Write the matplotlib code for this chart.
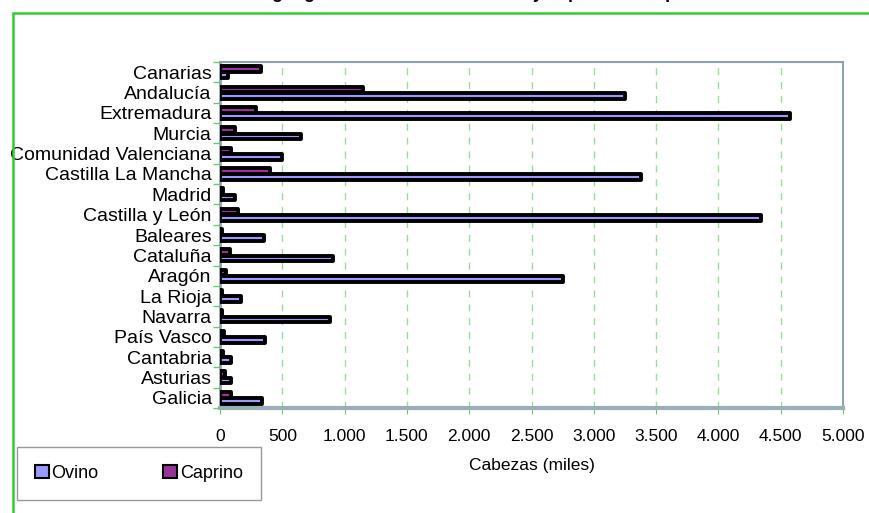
import matplotlib.pyplot as plt
import numpy as np
from matplotlib.patches import Rectangle
from matplotlib.ticker import FuncFormatter, MultipleLocator

plt.rcParams["font.family"] = ["Liberation Sans", "DejaVu Sans"]

# bottom to top, as drawn on the category axis
regions = [
    "Galicia", "Asturias", "Cantabria", "País Vasco", "Navarra", "La Rioja",
    "Aragón", "Cataluña", "Baleares", "Castilla y León", "Madrid",
    "Castilla La Mancha", "Comunidad Valenciana", "Murcia", "Extremadura",
    "Andalucía", "Canarias",
]
ovino = [340, 85, 85, 365, 885, 170, 2755, 905, 355, 4345, 120,
         3380, 500, 650, 4575, 3250, 65]
caprino = [85, 40, 28, 35, 18, 18, 50, 82, 18, 145, 28,
           405, 92, 122, 292, 1145, 330]
series_names = ["Ovino", "Caprino"]
colors = ["#9999FF", "#993399"]

fig = plt.figure(figsize=(8.7, 5.13), dpi=100)
ax = fig.add_axes([220 / 870, 1 - 408 / 513, 623 / 870, 346 / 513])

y = np.arange(len(regions))
h = 0.28
off = 0.155
ax.barh(y - off, ovino, height=h, color=colors[0], edgecolor="black",
        linewidth=2.8, joinstyle="round", label=series_names[0], zorder=3)
ax.barh(y + off, caprino, height=h, color=colors[1], edgecolor="black",
        linewidth=2.8, joinstyle="round", label=series_names[1], zorder=3)

ax.set_xlim(0, 5000)
ax.set_ylim(-0.33, 16.5)
ax.xaxis.set_major_locator(MultipleLocator(500))
ax.xaxis.set_major_formatter(
    FuncFormatter(lambda v, _: f"{int(v):,}".replace(",", ".")))
ax.grid(axis="x", color="#99DD99", linestyle=(0, (5, 5)), linewidth=1.0, zorder=0)

ax.set_yticks(y)
ax.set_yticklabels(regions, fontsize=14)
ax.set_yticks(np.arange(-0.5, len(regions), 1.0), minor=True)
ax.tick_params(axis="y", which="major", length=0, pad=6)
ax.tick_params(axis="y", which="minor", length=5, color="#66CC66", width=1)
ax.tick_params(axis="x", length=4, color="#66CC66", labelsize=12.5, pad=11)

for side in ["top", "right"]:
    ax.spines[side].set_color("#8FA3AD")
    ax.spines[side].set_linewidth(1.5)
ax.spines["left"].set_color("#8FA3AD")
ax.spines["left"].set_linewidth(2)
ax.spines["bottom"].set_color("#9AAEB5")
ax.spines["bottom"].set_linewidth(3)

ax.set_xlabel("Cabezas (miles)", fontsize=12.5, labelpad=10)

leg = fig.legend(loc="lower left", bbox_to_anchor=(17 / 870, 1 - 500 / 513),
                 ncol=2, fontsize=13, frameon=True, fancybox=False,
                 borderaxespad=0, handlelength=0.75, handleheight=0.75,
                 handletextpad=0.15, columnspacing=3.6, borderpad=1.0)
leg.get_frame().set_edgecolor("#808080")
leg.get_frame().set_linewidth(1)
for handle in leg.legend_handles:
    handle.set_linewidth(1.5)

# outer green frame of the chart area (clipped on the right and bottom)
fig.patches.append(Rectangle((13 / 870, -0.05), 1.0, 1 - 13 / 513 + 0.05,
                             transform=fig.transFigure, fill=False,
                             edgecolor="#33CC33", linewidth=1.8))

# title, cut off at the top of the image
fig.text(0.5, 1.004, "Distribución geográfica de la cabaña ovina y caprina en España",
         ha="center", va="baseline", fontsize=13, fontweight="bold")

fig.savefig("out.png", dpi=100)
